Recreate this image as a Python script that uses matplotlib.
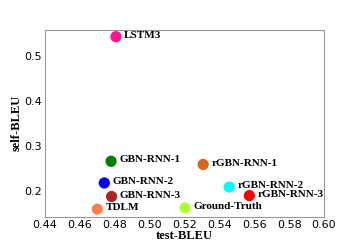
import matplotlib
matplotlib.use("Agg")
import matplotlib.pyplot as plt

names = ["LSTM3", "GBN-RNN-1", "GBN-RNN-2", "GBN-RNN-3", "TDLM",
         "Ground-Truth", "rGBN-RNN-1", "rGBN-RNN-2", "rGBN-RNN-3"]
test_bleu = [0.4807, 0.4779, 0.4740, 0.4782, 0.4700, 0.5203, 0.5307, 0.5456, 0.5572]
self_bleu = [0.542, 0.266, 0.218, 0.188, 0.160, 0.163, 0.259, 0.209, 0.190]
colors = ["deeppink", "green", "blue", "firebrick", "coral",
          "greenyellow", "chocolate", "cyan", "red"]

fig, ax = plt.subplots(figsize=(3.6, 2.45), dpi=100)
fig.subplots_adjust(left=0.125, right=0.9, bottom=0.115, top=0.878)

ax.scatter(test_bleu, self_bleu, c=colors, s=50, zorder=3)
for n, x, y in zip(names, test_bleu, self_bleu):
    ax.annotate(n, (x, y), xytext=(6, 1), textcoords="offset points",
                va="center", fontsize=8, fontweight="bold", family="Liberation Serif")

ax.set_xlim(0.44, 0.60)
ax.set_ylim(0.143, 0.557)
ax.set_xticks([0.44, 0.46, 0.48, 0.50, 0.52, 0.54, 0.56, 0.58, 0.60])
ax.set_yticks([0.2, 0.3, 0.4, 0.5])
ax.tick_params(labelsize=8, length=0, pad=2)
for s in ax.spines.values():
    s.set_color("#999999")
ax.set_xlabel("test-BLEU", fontsize=9, fontweight="bold", family="Liberation Serif", labelpad=0)
ax.set_ylabel("self-BLEU", fontsize=9, fontweight="bold", family="Liberation Serif", labelpad=1)

fig.savefig("out.png")
